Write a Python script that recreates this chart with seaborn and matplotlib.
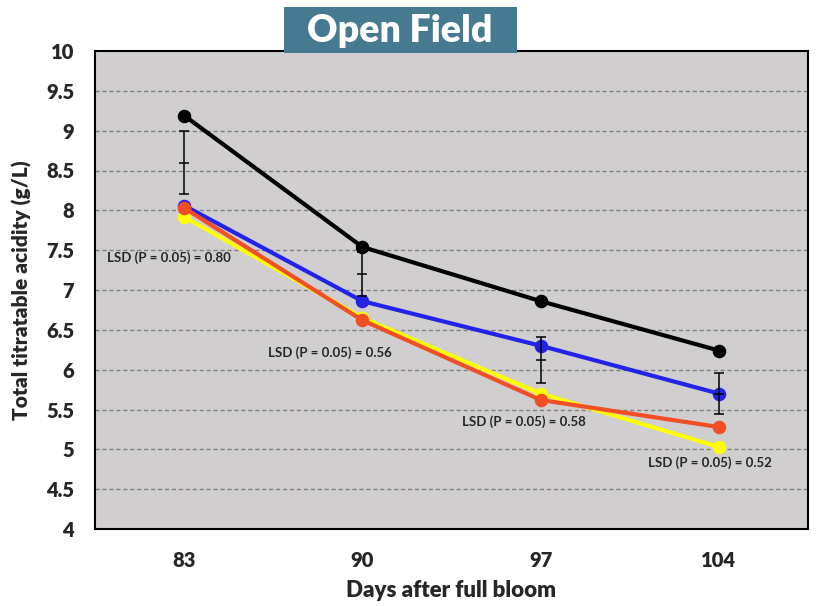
import pandas as pd
import matplotlib.pyplot as plt
import seaborn as sns
from matplotlib.patches import Rectangle

days = ['83', '90', '97', '104']
black  = [9.19, 7.54, 6.86, 6.24]
blue   = [8.06, 6.86, 6.30, 5.70]
red    = [8.03, 6.62, 5.62, 5.28]
yellow = [7.92, 6.65, 5.70, 5.03]

lsd_values  = [0.80, 0.56, 0.58, 0.52]
lsd_centers = [8.60, 7.20, 6.12, 5.70]
lsd_labels  = ['LSD (P = 0.05) = 0.80', 'LSD (P = 0.05) = 0.56',
               'LSD (P = 0.05) = 0.58', 'LSD (P = 0.05) = 0.52']
lsd_text_x  = [-0.43, 0.47, 1.56, 2.60]
lsd_text_y  = [7.40, 6.21, 5.35, 4.83]

series = {'blue': blue, 'yellow': yellow, 'red': red, 'black': black}
colors = {'blue': '#2323E8', 'yellow': '#FFFF00', 'red': '#F24E26', 'black': '#000000'}

rows = []
for name, vals in series.items():
    for d, v in zip(days, vals):
        rows.append({'day': d, 'acidity': v, 'treatment': name})
df = pd.DataFrame(rows)

sns.set_style('white')
plt.rcParams['font.family'] = ['Lato', 'DejaVu Sans']
plt.rcParams['font.weight'] = 'bold'

fig = plt.figure(figsize=(8.2, 6.06), dpi=100)
ax = fig.add_axes([95/820, 1 - 529/606, 713/820, 478/606])
ax.set_facecolor('#D0CECE')

sns.pointplot(data=df, x='day', y='acidity', hue='treatment',
              hue_order=list(series.keys()), order=days, palette=colors,
              markers='o', errorbar=None, legend=False, ax=ax,
              linewidth=3, markersize=7.5)

# LSD bars
xpos = list(range(len(days)))
ax.errorbar(xpos, lsd_centers, yerr=[v / 2 for v in lsd_values], fmt='none',
            ecolor='black', elinewidth=1.1, capsize=3.5, capthick=1.1, zorder=10)
ax.plot(xpos, lsd_centers, linestyle='none', marker='_', markersize=7,
        markeredgewidth=1.1, color='black', zorder=10)

for tx, ty, lab in zip(lsd_text_x, lsd_text_y, lsd_labels):
    ax.text(tx, ty, lab, fontsize=9.5, fontweight='bold', ha='left', va='center', zorder=11)

ax.set_xlim(-0.5, 3.5)
ax.set_ylim(4, 10)
yt = [4 + 0.5 * i for i in range(13)]
ax.set_yticks(yt)
ax.set_yticklabels([f'{t:g}' for t in yt])
for t in yt[1:-1]:
    ax.axhline(t, color='#808080', linestyle=(0, (3, 2)), linewidth=1, zorder=0.5)

ax.tick_params(axis='both', length=0, labelsize=14.5)
ax.tick_params(axis='y', pad=15)
ax.tick_params(axis='x', pad=16)
for lab in ax.get_xticklabels() + ax.get_yticklabels():
    lab.set_fontweight('heavy')

for s in ax.spines.values():
    s.set_visible(True)
    s.set_color('black')
    s.set_linewidth(1.5)

ax.set_xlabel('Days after full bloom', fontsize=16, fontweight='heavy', labelpad=7)
ax.set_ylabel('Total titratable acidity (g/L)', fontsize=15, fontweight='heavy', labelpad=10)

# title box
fig.patches.append(Rectangle((284/820, 1 - 53/606), 233/820, 46/606,
                             transform=fig.transFigure, facecolor='#457A91',
                             edgecolor='none', zorder=20))
fig.text(400/820, 1 - 31/606, 'Open Field', color='white', fontsize=27,
         fontweight='heavy', ha='center', va='center', zorder=21)

fig.savefig('out.png', dpi=100)
